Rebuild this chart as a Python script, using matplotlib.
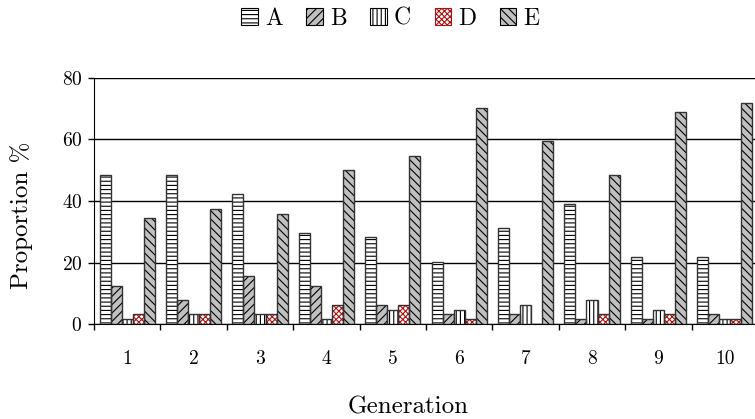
import numpy as np
import matplotlib.pyplot as plt
from matplotlib.patches import Patch

# -- datos ----------------------------------------------------------------------------------
generaciones = ['1', '2', '3', '4', '5', '6', '7', '8', '9', '10']
serie_a = [48.5, 48.5, 42.2, 29.7, 28.2, 20.3, 31.3, 39.1, 21.9, 21.9]
serie_b = [12.5, 7.8, 15.6, 12.5, 6.3, 3.1, 3.1, 1.6, 1.6, 3.1]
serie_c = [1.6, 3.1, 3.1, 1.6, 4.7, 4.7, 6.3, 7.8, 4.7, 1.6]
serie_d = [3.1, 3.1, 3.1, 6.3, 6.3, 1.6, 0.0, 3.1, 3.1, 1.6]
serie_e = [34.4, 37.5, 35.9, 50.0, 54.7, 70.3, 59.4, 48.4, 68.8, 71.9]
nombres = ['A', 'B', 'C', 'D', 'E']

plt.rcParams['font.family'] = ['cmr10', 'DejaVu Serif']
plt.rcParams['mathtext.fontset'] = 'cm'
plt.rcParams['axes.formatter.use_mathtext'] = True
plt.rcParams['hatch.linewidth'] = 0.8

series = [serie_a, serie_b, serie_c, serie_d, serie_e]
rellenos = ['white', '#c0c0c0', 'white', 'white', '#c0c0c0']
tramas = ['----', '////', '||||', 'xxxxxx', '\\\\\\\\']
color_trama = ['black', 'black', 'black', '#b01010', 'black']

fig = plt.figure(figsize=(7.55, 4.19), dpi=100)
ax = fig.add_axes([94 / 755, 1 - 324 / 419, 664 / 755, 246 / 419])

x = np.arange(len(generaciones))
ancho = 1 / 6
for i, vals in enumerate(series):
    pos = x + (i - 2) * ancho
    # trama y relleno
    ax.bar(pos, vals, ancho, color=rellenos[i], hatch=tramas[i],
           edgecolor=color_trama[i], linewidth=0, zorder=3)
    # borde
    ax.bar(pos, vals, ancho, fill=False, edgecolor='#333333',
           linewidth=1.0, zorder=4)

ax.set_xlim(-0.5, len(generaciones) - 0.5)
ax.set_ylim(0, 80)
ax.set_yticks([0, 20, 40, 60, 80])
ax.yaxis.grid(True, color='black', linewidth=1.0, zorder=0)
ax.set_axisbelow(True)

ax.set_xticks(x)
ax.set_xticklabels(generaciones)
ax.set_xticks(np.arange(len(generaciones) + 1) - 0.5, minor=True)
ax.tick_params(axis='x', which='major', length=0, pad=18.5, labelsize=14)
ax.tick_params(axis='x', which='minor', length=4.5, width=1, direction='out')
ax.tick_params(axis='y', length=4.5, width=1, labelsize=14, pad=4)

for lado in ['top', 'right']:
    ax.spines[lado].set_visible(False)
ax.spines['left'].set_color('black')
ax.spines['bottom'].set_color('black')

# etiquetas de ejes
fig.text(408 / 755, 1 - 413 / 419, 'Generation', fontsize=18, ha='center', va='baseline')
fig.text(22 / 755, 1 - 215 / 419, 'Proportion %', fontsize=18, rotation=90,
         ha='center', va='center')

manijas = [Patch(facecolor=rellenos[i], hatch=tramas[i], edgecolor=color_trama[i],
                 linewidth=0.8, label=nombres[i]) for i in range(5)]
fig.legend(handles=manijas, loc='center', bbox_to_anchor=(0.517, 0.955), ncol=5,
           frameon=False, fontsize=17, handlelength=0.7, handleheight=0.7,
           handletextpad=0.3, columnspacing=1.0)

fig.savefig('out.png', dpi=100)
